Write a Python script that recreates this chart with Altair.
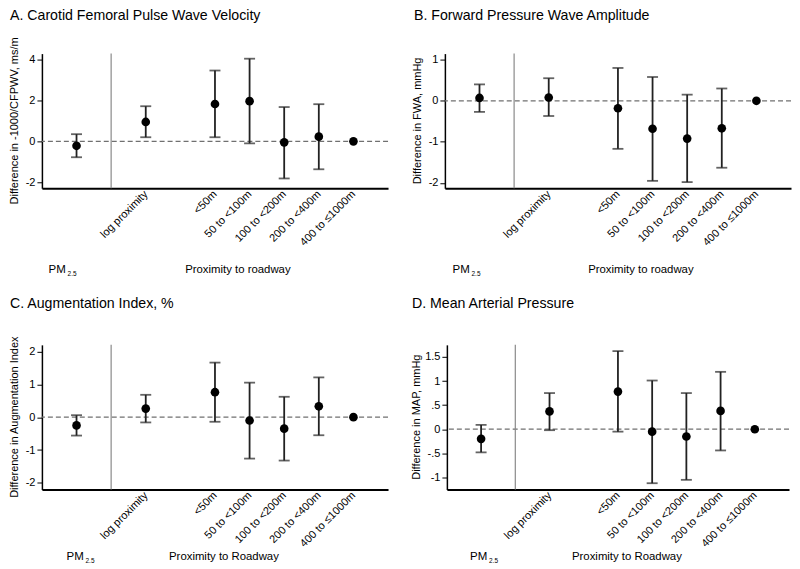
import altair as alt
import pandas as pd

FONT = "Liberation Sans"

# x layout: categories with spacer slots (separator and gap)
x_domain = ["PM2.5", "sep", "log proximity", "gap", "<50m", "50 to <100m",
            "100 to <200m", "200 to <400m", "400 to ≤1000m"]
categories = ["PM2.5", "log proximity", "<50m", "50 to <100m",
              "100 to <200m", "200 to <400m", "400 to ≤1000m"]
proximity_labels = categories[1:]

# Panel A: Carotid Femoral Pulse Wave Velocity
A_est = [-0.22, 0.95, 1.83, 1.97, -0.05, 0.23, 0.0]
A_lo = [-0.78, 0.20, 0.20, -0.10, -1.82, -1.37, None]
A_hi = [0.35, 1.72, 3.47, 4.05, 1.68, 1.82, None]
A_ticks = [-2, 0, 2, 4]
A_tick_labels = ["-2", "0", "2", "4"]

# Panel B: Forward Pressure Wave Amplitude
B_est = [0.07, 0.08, -0.18, -0.68, -0.92, -0.67, 0.0]
B_lo = [-0.27, -0.37, -1.17, -1.95, -1.98, -1.63, None]
B_hi = [0.40, 0.55, 0.80, 0.58, 0.15, 0.30, None]
B_ticks = [-2, -1, 0, 1]
B_tick_labels = ["-2", "-1", "0", "1"]

# Panel C: Augmentation Index
C_est = [-0.25, 0.26, 0.76, -0.10, -0.35, 0.33, 0.0]
C_lo = [-0.56, -0.16, -0.14, -1.26, -1.32, -0.55, None]
C_hi = [0.06, 0.68, 1.66, 1.05, 0.62, 1.21, None]
C_ticks = [-2, -1, 0, 1, 2]
C_tick_labels = ["-2", "-1", "0", "1", "2"]

# Panel D: Mean Arterial Pressure
D_est = [-0.20, 0.37, 0.78, -0.05, -0.15, 0.38, 0.0]
D_lo = [-0.48, -0.02, -0.05, -1.12, -1.05, -0.44, None]
D_hi = [0.09, 0.75, 1.62, 1.01, 0.75, 1.19, None]
D_ticks = [-1, -0.5, 0, 0.5, 1, 1.5]
D_tick_labels = ["-1", "-.5", "0", ".5", "1", "1.5"]


def label_expr(ticks, labels):
    parts = "".join(f"datum.value == {v} ? '{l}' : " for v, l in zip(ticks, labels))
    return parts + "''"


def panel(title, ytitle, est, lo, hi, ticks, tick_labels, domain, w, h,
          prox_title, pm_dx, prox_dx, text_dy, ytitle_x, title_x, title_y):
    df = pd.DataFrame({"cat": categories, "est": est, "lo": lo, "hi": hi})
    one = pd.DataFrame({"k": [0]})

    xaxis = alt.Axis(values=proximity_labels, labelAngle=-45, labelAlign="right",
                     labelBaseline="middle", ticks=False, grid=False,
                     domainColor="black", domainWidth=2, labelFontSize=11,
                     labelPadding=4, labelColor="black", labelFont=FONT,
                     labelOverlap=False, title=None)
    xscale = alt.Scale(type="point", domain=x_domain, padding=1.2)
    yscale = alt.Scale(domain=domain, nice=False, zero=False)
    yaxis = alt.Axis(values=ticks, labelExpr=label_expr(ticks, tick_labels),
                     grid=False, domainColor="black", domainWidth=1.5,
                     tickColor="black", tickSize=5, tickWidth=1,
                     labelFontSize=11, labelPadding=2, labelColor="black",
                     labelFont=FONT, labelOverlap=False, labelBound=False,
                     labelFlush=False, tickCount=len(ticks), title=None)

    def X(field):
        return alt.X(field, type="nominal", scale=xscale, axis=xaxis)

    def Y(field):
        return alt.Y(field, type="quantitative", scale=yscale, axis=yaxis)

    zero = alt.Chart(one).mark_rule(color="#707070", strokeWidth=1.2,
                                    strokeDash=[5, 3]).encode(
        y=alt.YDatum(0, type="quantitative", scale=yscale, axis=yaxis))
    sep = alt.Chart(one).mark_rule(color="#8a8a8a", strokeWidth=1.2).encode(
        x=alt.XDatum("sep", type="nominal", scale=xscale, axis=xaxis))
    bars = alt.Chart(df).mark_rule(color="#222222", strokeWidth=1.8).encode(
        x=X("cat"), y=Y("lo"), y2="hi:Q")
    cap_lo = alt.Chart(df).mark_tick(color="#222222", thickness=1.8, size=11).encode(
        x=X("cat"), y=Y("lo"))
    cap_hi = alt.Chart(df).mark_tick(color="#222222", thickness=1.8, size=11).encode(
        x=X("cat"), y=Y("hi"))
    pts = alt.Chart(df).mark_circle(size=75, color="black", opacity=1).encode(
        x=X("cat"), y=Y("est"))

    ttl = alt.Chart(one).mark_text(text=title, fontSize=14.2, font=FONT, align="left",
                                   baseline="alphabetic", color="black").encode(
        x=alt.value(title_x), y=alt.value(title_y))
    ytxt = alt.Chart(one).mark_text(text=ytitle, fontSize=11, font=FONT, angle=270,
                                    align="center", baseline="middle",
                                    color="black").encode(
        x=alt.value(ytitle_x), y=alt.value(h / 2))
    pm = alt.Chart(one).mark_text(text="PM", fontSize=11.5, font=FONT, align="left",
                                  baseline="middle", dx=pm_dx, color="black").encode(
        x=alt.XDatum("PM2.5", type="nominal", scale=xscale, axis=xaxis),
        y=alt.value(h + text_dy))
    pm_sub = alt.Chart(one).mark_text(text="2.5", fontSize=6.5, font=FONT, align="left",
                                      baseline="middle", dx=pm_dx + 19, dy=4,
                                      color="black").encode(
        x=alt.XDatum("PM2.5", type="nominal", scale=xscale, axis=xaxis),
        y=alt.value(h + text_dy))
    prox = alt.Chart(one).mark_text(text=prox_title, fontSize=11.4, font=FONT,
                                    align="center", baseline="middle", dx=prox_dx,
                                    color="black").encode(
        x=alt.XDatum("<50m", type="nominal", scale=xscale, axis=xaxis),
        y=alt.value(h + text_dy))

    return alt.layer(zero, sep, bars, cap_lo, cap_hi, pts, ttl, ytxt, pm, pm_sub,
                     prox).properties(width=w, height=h)


pA = panel("A. Carotid Femoral Pulse Wave Velocity", "Difference in -1000/CFPWV, ms/m",
           A_est, A_lo, A_hi, A_ticks, A_tick_labels, [-2.3, 4.3], 347, 135,
           "Proximity to roadway", -28, 23, 82, -27, -32, -34)
pB = panel("B. Forward Pressure Wave Amplitude", "Difference in FWA, mmHg",
           B_est, B_lo, B_hi, B_ticks, B_tick_labels, [-2.13, 1.15], 347, 135,
           "Proximity to roadway", -27, 23, 82, -27, -31, -34)
pC = panel("C. Augmentation Index, %", "Difference in Augmentation Index",
           C_est, C_lo, C_hi, C_ticks, C_tick_labels, [-2.2, 2.2], 347, 145,
           "Proximity to Roadway", -10, 9, 68, -27, -32, -37)
pD = panel("D. Mean Arterial Pressure", "Difference in MAP, mmHg",
           D_est, D_lo, D_hi, D_ticks, D_tick_labels, [-1.25, 1.75], 343, 145,
           "Proximity to Roadway", -11, 9, 68, -30, -35, -37)

chart = alt.vconcat(
    alt.hconcat(pA, pB, spacing=22),
    alt.hconcat(pC, pD, spacing=22),
    spacing=19,
).properties(padding=0).configure_view(stroke=None)

chart.save("out.html", embed_options={"renderer": "svg", "actions": False})
